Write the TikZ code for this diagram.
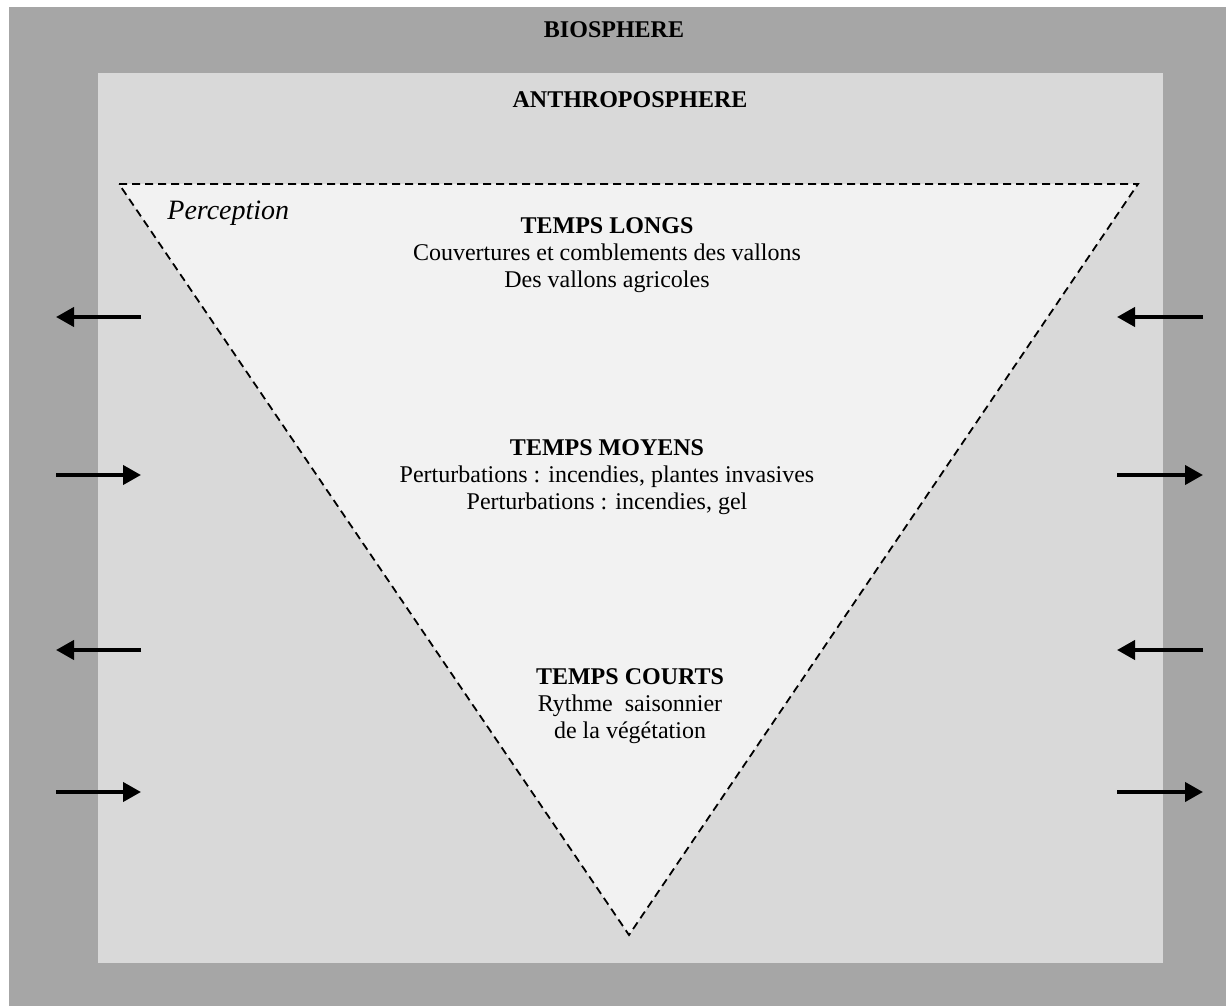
\documentclass[tikz,border=0pt]{standalone}
\usepackage{fontspec}
\setmainfont{Liberation Serif}
\usetikzlibrary{arrows.meta}
\definecolor{outergray}{HTML}{A6A6A6}
\definecolor{innergray}{HTML}{D9D9D9}
\definecolor{trifill}{HTML}{F2F2F2}
\begin{document}
\begin{tikzpicture}[x=0.5pt,y=-0.5pt,
  bodytext/.style={align=center,inner sep=0pt,font=\fontsize{12}{13.6}\selectfont},
  titletext/.style={inner sep=0pt,font=\fontsize{12}{13.6}\selectfont\bfseries},
  flowarrow/.style={line width=2pt,-{Triangle[length=9pt,width=9.5pt]}}]
\useasboundingbox[fill=white] (0,0) rectangle (1228,1006);
\fill[outergray] (9,7) rectangle (1226,1006);
\fill[innergray] (98,73) rectangle (1163,963);
\draw[fill=trifill,dash pattern=on 4pt off 2.5pt,line width=0.9pt] (119,184) -- (1138,184) -- (629,935) -- cycle;

\node[titletext] (bio) at (614,30) {BIOSPHERE};
\node[titletext] (anthro) at (630,100) {ANTHROPOSPHERE};
\node[inner sep=0pt,font=\fontsize{14}{16}\selectfont\itshape,anchor=west] (perc) at (167,213) {Perception};

\node[titletext] (tl) at (607,226) {TEMPS LONGS};
\node[bodytext,anchor=north] (tlb) at (607,243) {Couvertures et comblements des vallons\\Des vallons agricoles};

\node[titletext] (tm) at (607,448) {TEMPS MOYENS};
\node[bodytext,anchor=north] (tmb) at (607,465) {Perturbations : incendies, plantes invasives\\Perturbations : incendies, gel};

\node[titletext] (tc) at (630,677) {TEMPS COURTS};
\node[bodytext,anchor=north] (tcb) at (630,694) {Rythme\ \ saisonnier\\de la végétation};

\foreach \y/\n in {317/a,475/b,650/c,792/d}{
  \coordinate (L\n o) at (56,\y);
  \coordinate (L\n i) at (141,\y);
  \coordinate (R\n i) at (1117,\y);
  \coordinate (R\n o) at (1203,\y);
}
\draw[flowarrow] (Lai) -- (Lao);
\draw[flowarrow] (Lbo) -- (Lbi);
\draw[flowarrow] (Lci) -- (Lco);
\draw[flowarrow] (Ldo) -- (Ldi);
\draw[flowarrow] (Rao) -- (Rai);
\draw[flowarrow] (Rbi) -- (Rbo);
\draw[flowarrow] (Rco) -- (Rci);
\draw[flowarrow] (Rdi) -- (Rdo);
\end{tikzpicture}
\end{document}
